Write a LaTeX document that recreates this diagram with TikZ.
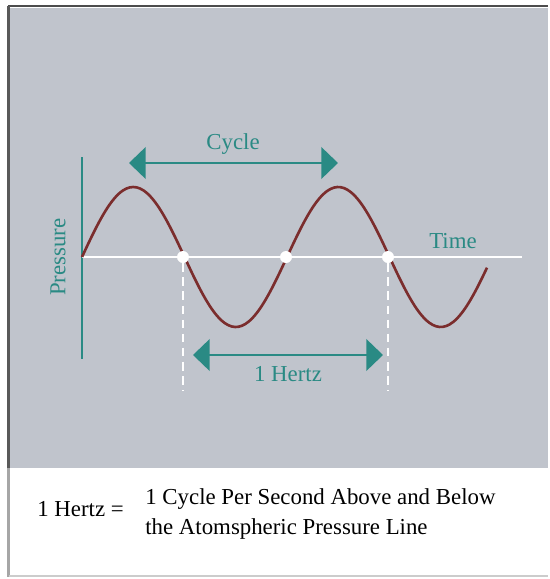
\documentclass[tikz,border=0pt]{standalone}
\usepackage{fontspec}
\setmainfont{Liberation Serif}
\usetikzlibrary{arrows.meta}
\definecolor{panel}{HTML}{C0C4CC}
\definecolor{teal}{HTML}{2A8A84}
\definecolor{wave}{HTML}{7B2D2D}
\tikzset{
  lbl/.style={text=teal, font=\fontsize{13}{16}\selectfont, inner sep=0pt},
  span/.style={draw=teal, line width=1.2pt, {Triangle[length=9.5pt,width=18pt]}-{Triangle[length=9.5pt,width=18pt]}},
  zero/.style={circle, fill=white, inner sep=0pt, minimum size=12*0.02cm},
}
\begin{document}
\begin{tikzpicture}[x=0.02cm, y=-0.02cm]
  % frame and panel
  \fill[white] (0,0) rectangle (548,579);
  \fill[panel] (10,8) rectangle (548,468);
  \draw[black!70, line width=1.2pt] (8,6) -- (548,6);
  \draw[black!65, line width=1.6pt] (8.5,6) -- (8.5,468);
  \draw[black!35, line width=1.4pt] (8.5,468) -- (8.5,577);
  \draw[black!20, line width=0.6pt] (8.5,576) -- (548,576);
  % axes
  \coordinate (ptop) at (82,157);
  \coordinate (pbot) at (82,359);
  \coordinate (t0) at (82,257);
  \coordinate (t1) at (522,257);
  \draw[teal, line width=1.2pt] (ptop) -- (pbot);
  \draw[white, line width=1.2pt] (t0) -- (t1);
  % pressure wave
  \draw[wave, line width=1.5pt, domain=82:487, samples=120, smooth]
    plot (\x, {257 - 70*sin(1.7561*(\x-82))});
  % zero crossings
  \foreach \n/\x in {1/183, 2/286, 3/388} \node[zero] (z\n) at (\x,257) {};
  \coordinate (d1) at (183,390);
  \coordinate (d3) at (388,390);
  \draw[white, line width=1pt, dash pattern=on 5pt off 3pt] (z1) -- (d1);
  \draw[white, line width=1pt, dash pattern=on 5pt off 3pt] (z3) -- (d3);
  % cycle span
  \coordinate (cycL) at (129,163);
  \coordinate (cycR) at (338,163);
  \draw[span] (cycL) -- (cycR);
  \node[lbl] (cycle) at (233,144) {Cycle};
  % hertz span
  \coordinate (hzL) at (193,355);
  \coordinate (hzR) at (383,355);
  \draw[span] (hzL) -- (hzR);
  \node[lbl] (hertz) at (288,374) {1 Hertz};
  % axis labels
  \node[lbl] (time) at (453,241) {Time};
  \node[lbl, rotate=90] (pressure) at (58,257) {Pressure};
  % definition
  \node[font=\fontsize{13}{17}\selectfont, inner sep=0pt, anchor=base west] (def) at (37,516) {1 Hertz =};
  \node[font=\fontsize{13}{17}\selectfont, inner sep=0pt, anchor=west, align=left] (text) at (145,514)
    {1 Cycle Per Second Above and Below\\the Atomspheric Pressure Line};
\end{tikzpicture}
\end{document}
